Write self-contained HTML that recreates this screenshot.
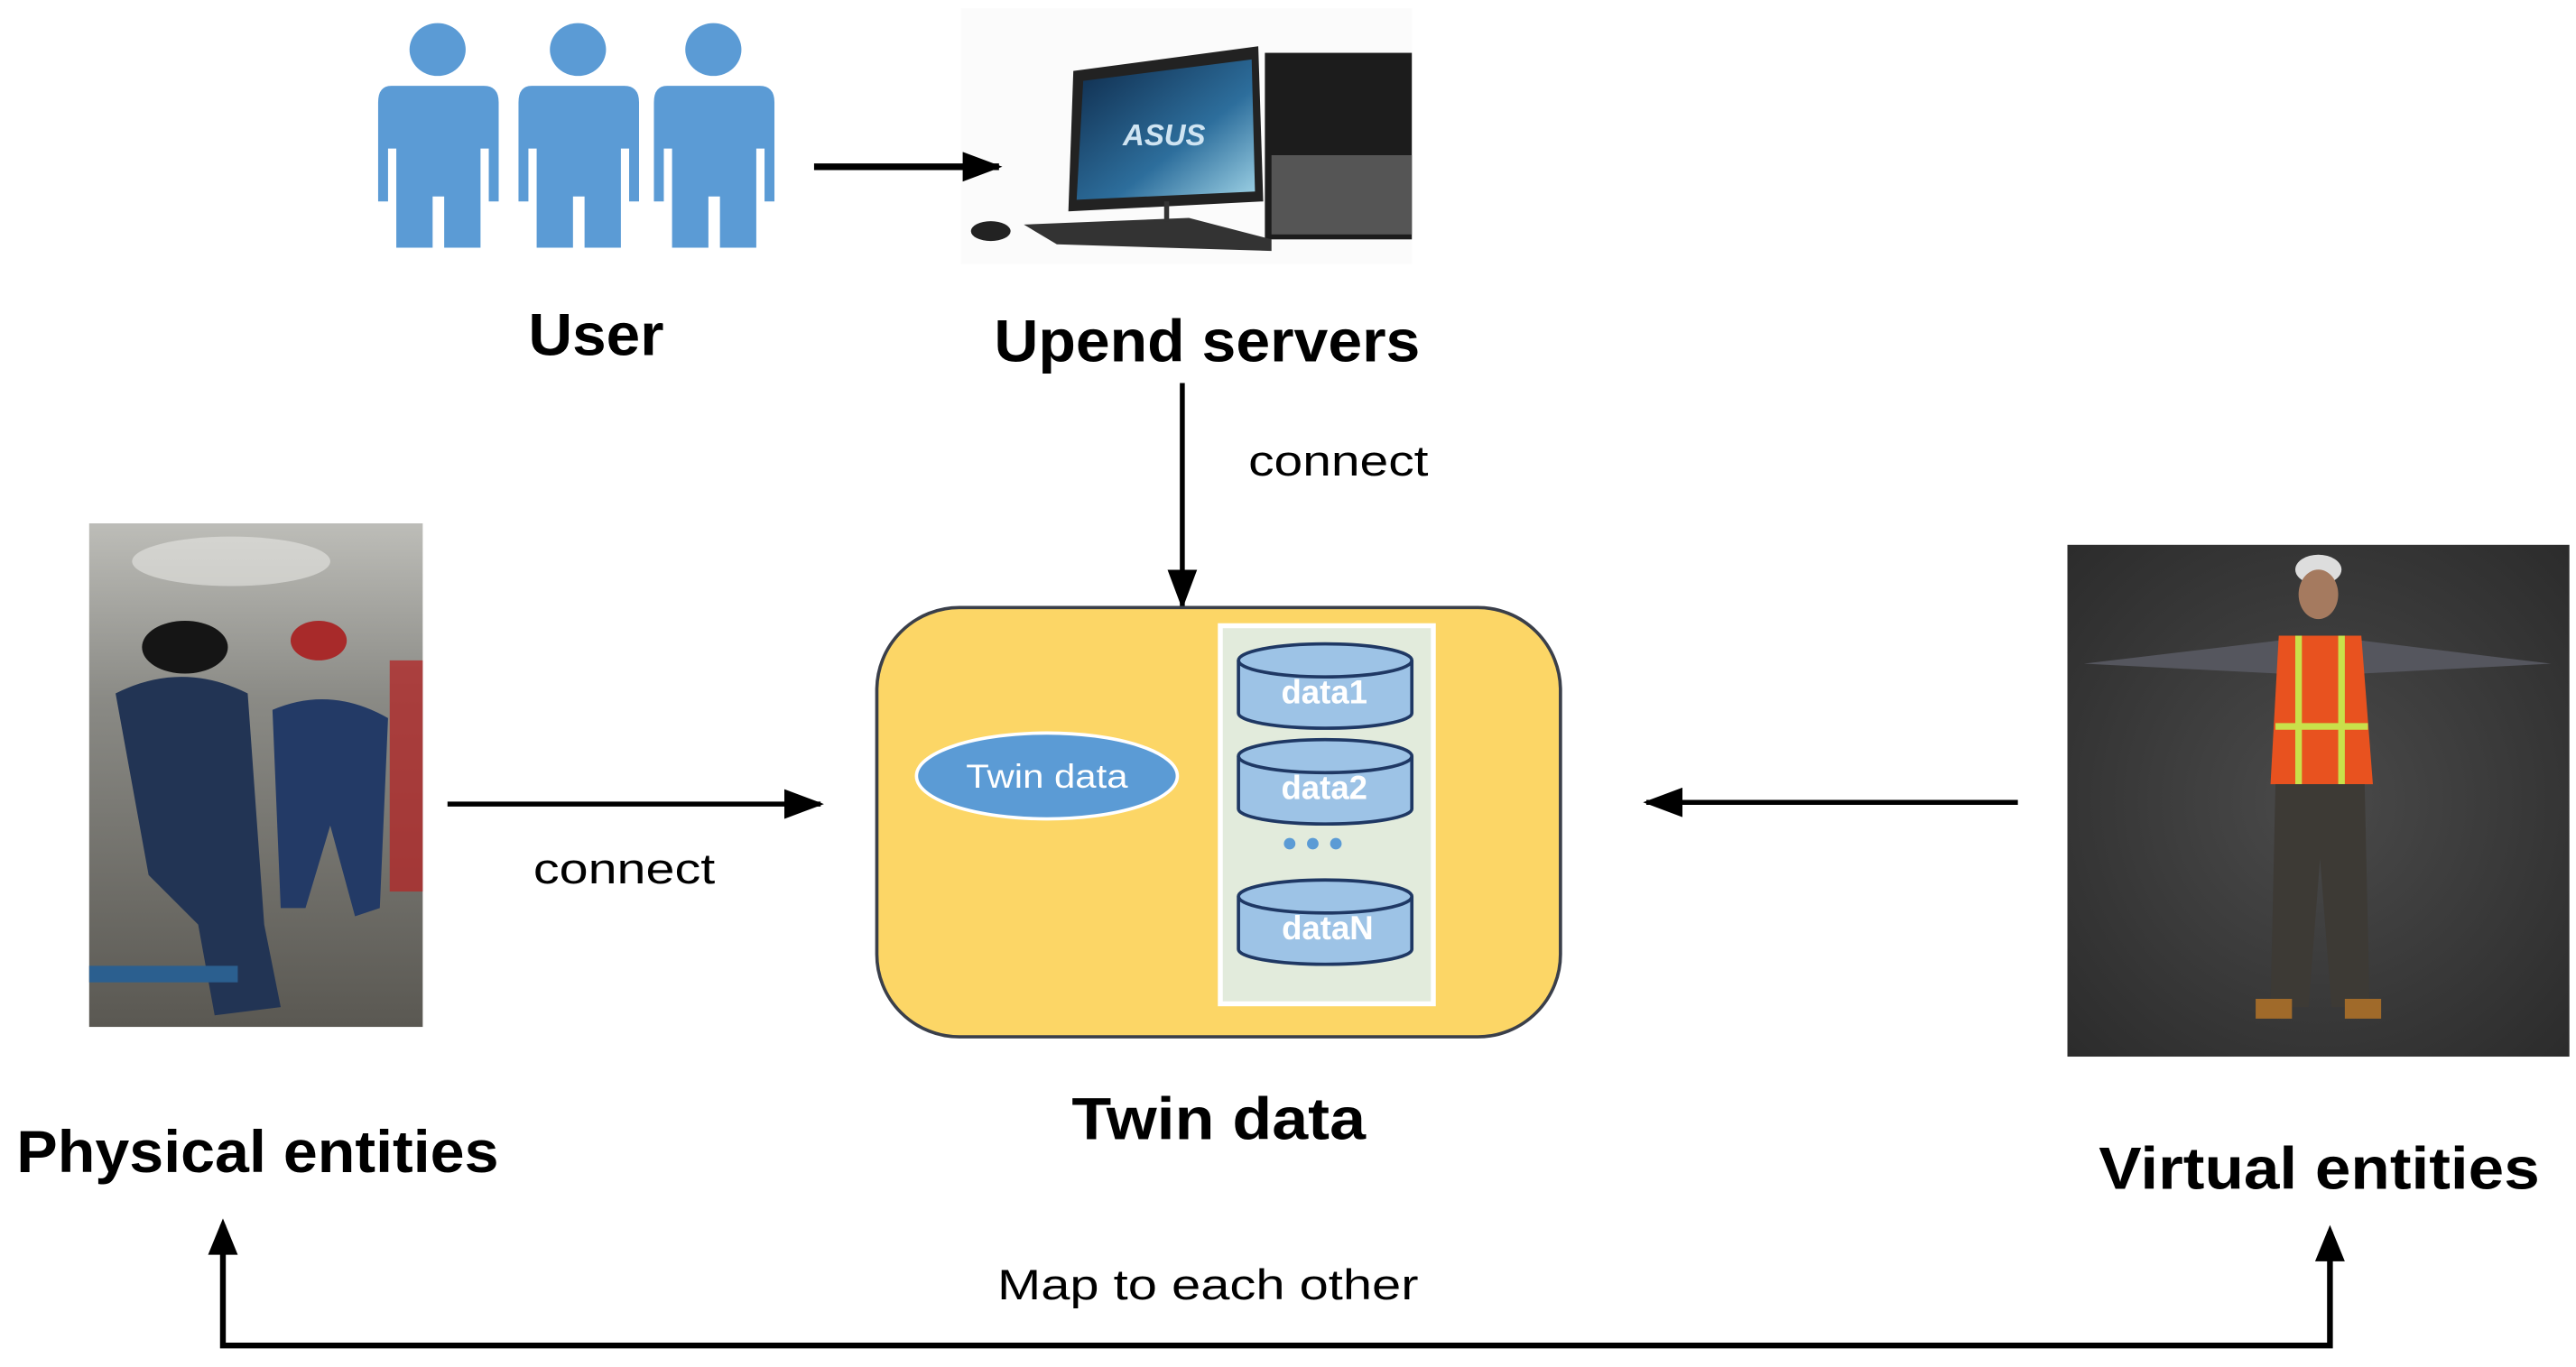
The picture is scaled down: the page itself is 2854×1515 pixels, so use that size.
<!DOCTYPE html>
<html><head><meta charset="utf-8"><style>html,body{margin:0;padding:0;background:#fff}svg{display:block}</style></head>
<body>
<svg width="2854" height="1515" viewBox="0 0 1560 828" preserveAspectRatio="none" xmlns="http://www.w3.org/2000/svg" font-family="Liberation Sans, sans-serif">
<defs>
<marker id="ah" markerWidth="24" markerHeight="18" refX="22" refY="9" orient="auto" markerUnits="userSpaceOnUse" viewBox="0 0 24 18"><path d="M0,0 L24,9 L0,18 z" fill="#000"/></marker>
<linearGradient id="mine" x1="0" y1="0" x2="0" y2="1"><stop offset="0" stop-color="#bdbdb8"/><stop offset="0.35" stop-color="#8a8a85"/><stop offset="1" stop-color="#5a5852"/></linearGradient>
<radialGradient id="vbg" cx="0.5" cy="0.5" r="0.7"><stop offset="0" stop-color="#4a4a4a"/><stop offset="1" stop-color="#2c2c2c"/></radialGradient>
<linearGradient id="scr" x1="0" y1="0" x2="1" y2="1"><stop offset="0" stop-color="#0e2a4a"/><stop offset="0.6" stop-color="#2d6e9c"/><stop offset="1" stop-color="#9fd3e6"/></linearGradient>
</defs>

<!-- people -->
<g fill="#5B9BD5">
<g id="p"><ellipse cx="265" cy="30" rx="17" ry="16"/><path d="M237,52 H293 Q302,52 302,62 V122 H296 V90 H291 V150 H269 V119 H262 V150 H240 V90 H235 V122 H229 V62 Q229,52 237,52 Z"/></g>
<use href="#p" x="85"/><use href="#p" x="167"/>
</g>

<!-- computer -->
<rect x="582" y="5" width="273" height="155" fill="#fbfbfb"/>
<polygon points="650,43 762,28 765,122 647,128" fill="#222"/>
<polygon points="656,49 758,36 760,116 652,121" fill="url(#scr)"/>
<text x="680" y="88" font-size="18" font-weight="bold" fill="#cfe4f2" font-style="italic">ASUS</text>
<rect x="766" y="32" width="89" height="113" fill="#1c1c1c"/>
<rect x="770" y="94" width="85" height="48" fill="#555"/>
<polygon points="620,136 720,132 770,145 770,152 640,148" fill="#333"/>
<ellipse cx="600" cy="140" rx="12" ry="6" fill="#222"/>
<rect x="705" y="122" width="3" height="12" fill="#333"/>

<!-- user->server arrow -->
<line x1="493" y1="101" x2="605" y2="101" stroke="#000" stroke-width="4" marker-end="url(#ah)"/>

<text x="361" y="215" font-size="36" font-weight="bold" text-anchor="middle" textLength="82" lengthAdjust="spacingAndGlyphs">User</text>
<text x="731" y="219" font-size="36" font-weight="bold" text-anchor="middle" textLength="258" lengthAdjust="spacingAndGlyphs">Upend servers</text>

<!-- vertical connect arrow -->
<line x1="716" y1="232" x2="716" y2="367" stroke="#000" stroke-width="3" marker-end="url(#ah)"/>
<text x="756" y="288" font-size="26" textLength="109" lengthAdjust="spacingAndGlyphs">connect</text>

<!-- twin box -->
<rect x="531" y="368" width="414" height="260" rx="50" ry="50" fill="#FCD666" stroke="#3a3f4a" stroke-width="2"/>
<rect x="739" y="379" width="129" height="229" fill="#E2EBDC" stroke="#fff" stroke-width="3"/>
<g stroke="#1f3864" stroke-width="2" fill="#9DC3E6">
<g id="cyl"><path d="M750,400 V432 A52,9 0 0 0 855,432 V400"/><ellipse cx="802.5" cy="400" rx="52.5" ry="10"/></g>
<use href="#cyl" y="58"/>
<use href="#cyl" y="143"/>
</g>
<g fill="#fff" font-weight="bold" font-size="20" text-anchor="middle">
<text x="802" y="426">data1</text><text x="802" y="484">data2</text><text x="804" y="569">dataN</text>
</g>
<g fill="#5B9BD5"><circle cx="781" cy="511" r="3.5"/><circle cx="795" cy="511" r="3.5"/><circle cx="809" cy="511" r="3.5"/></g>
<ellipse cx="634" cy="470" rx="79" ry="26" fill="#5B9BD5" stroke="#fff" stroke-width="2"/>
<text x="634" y="477" font-size="20" fill="#fff" text-anchor="middle" textLength="98" lengthAdjust="spacingAndGlyphs">Twin data</text>
<text x="738" y="690" font-size="36" font-weight="bold" text-anchor="middle" textLength="178" lengthAdjust="spacingAndGlyphs">Twin data</text>

<!-- physical photo -->
<rect x="54" y="317" width="202" height="305" fill="url(#mine)"/>
<ellipse cx="140" cy="340" rx="60" ry="15" fill="#e6e6e2" opacity="0.6"/>
<rect x="236" y="400" width="20" height="140" fill="#b02a2a" opacity="0.8"/>
<path d="M70,420 Q110,400 150,420 L160,560 L170,610 L130,615 L120,560 L90,530 Z" fill="#223454"/>
<ellipse cx="112" cy="392" rx="26" ry="16" fill="#151515"/>
<path d="M165,430 Q200,415 235,435 L230,550 L215,555 L200,500 L185,550 L170,550 Z" fill="#233a66"/>
<ellipse cx="193" cy="388" rx="17" ry="12" fill="#a82a2a"/>
<rect x="54" y="585" width="90" height="10" fill="#2b5f8f"/>

<!-- arrows -->
<line x1="271" y1="487" x2="497" y2="487" stroke="#000" stroke-width="3" marker-end="url(#ah)"/>
<text x="323" y="535" font-size="26" textLength="110" lengthAdjust="spacingAndGlyphs">connect</text>
<line x1="1222" y1="486" x2="997" y2="486" stroke="#000" stroke-width="3" marker-end="url(#ah)"/>

<!-- virtual image -->
<rect x="1252" y="330" width="304" height="310" fill="url(#vbg)"/>
<g>
<path d="M1262,402 L1380,388 L1430,388 L1545,402 L1430,408 L1380,408 Z" fill="#55565e"/>
<ellipse cx="1404" cy="345" rx="14" ry="9" fill="#ddd"/>
<ellipse cx="1404" cy="360" rx="12" ry="15" fill="#a57a5f"/>
<path d="M1380,385 L1430,385 L1437,475 L1375,475 Z" fill="#e8521f"/>
<path d="M1392,385 L1392,475 M1418,385 L1418,475 M1378,440 L1434,440" stroke="#c9e04a" stroke-width="4"/>
<path d="M1378,475 L1432,475 L1435,610 L1412,610 L1405,520 L1398,610 L1375,610 Z" fill="#3d3a35"/>
<rect x="1366" y="605" width="22" height="12" fill="#a06a2a"/><rect x="1420" y="605" width="22" height="12" fill="#a06a2a"/>
</g>

<text x="10" y="710" font-size="36" font-weight="bold" textLength="292" lengthAdjust="spacingAndGlyphs">Physical entities</text>
<text x="1271" y="720" font-size="36" font-weight="bold" textLength="267" lengthAdjust="spacingAndGlyphs">Virtual entities</text>

<!-- bottom map connector -->
<polyline points="135,742 135,815 1411,815 1411,746" fill="none" stroke="#000" stroke-width="3.5"/>
<polygon points="135,738 126,760 144,760" fill="#000"/>
<polygon points="1411,742 1402,764 1420,764" fill="#000"/>
<text x="604" y="787" font-size="26" textLength="255" lengthAdjust="spacingAndGlyphs">Map to each other</text>
</svg>
</body></html>
